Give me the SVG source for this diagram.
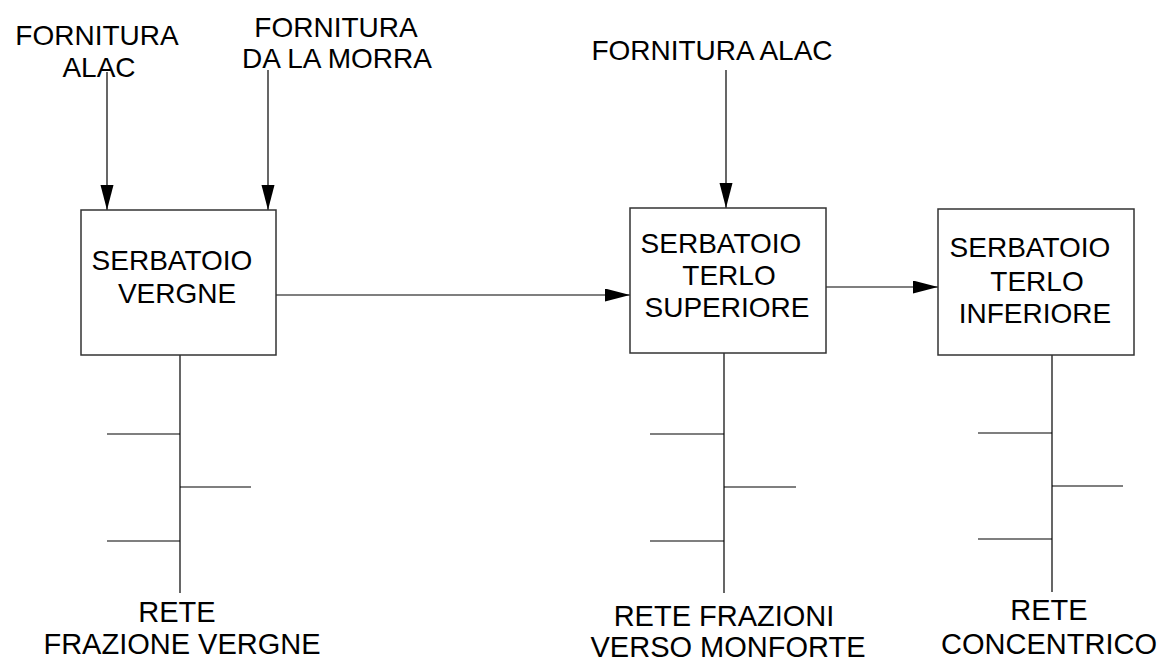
<svg xmlns="http://www.w3.org/2000/svg" width="1168" height="662" viewBox="0 0 1168 662">
<style>
text{font-family:"Liberation Sans",Arial,sans-serif;font-size:28px;fill:#000;text-anchor:middle}
.box{fill:#fff;stroke:#333;stroke-width:1.5}
.ln{stroke:#000;stroke-width:1.2;fill:none}
.big{font-size:29px}
</style>
<defs>
<marker id="ah" markerUnits="userSpaceOnUse" markerWidth="26" markerHeight="14" refX="25" refY="6.5" orient="auto">
<path d="M0,0 L25,6.5 L0,13 z" fill="#000"/>
</marker>
</defs>
<rect width="1168" height="662" fill="#fff"/>
<g id="labels-in">
<text x="97" y="45">FORNITURA</text>
<text x="99" y="77">ALAC</text>
<text x="336" y="37">FORNITURA</text>
<text x="337" y="68">DA LA MORRA</text>
<text x="712" y="60">FORNITURA ALAC</text>
</g>
<g id="connectors">
<line class="ln" x1="107" y1="72" x2="107" y2="210" marker-end="url(#ah)"/>
<line class="ln" x1="268" y1="70" x2="268" y2="210" marker-end="url(#ah)"/>
<line class="ln" x1="726" y1="70" x2="726" y2="208" marker-end="url(#ah)"/>
<line class="ln" x1="276" y1="295" x2="630" y2="295" marker-end="url(#ah)"/>
<line class="ln" x1="826" y1="287" x2="938" y2="287" marker-end="url(#ah)"/>
<line class="ln" x1="180" y1="355" x2="180" y2="593"/>
<line class="ln" x1="107" y1="434" x2="180" y2="434"/>
<line class="ln" x1="180" y1="487" x2="251" y2="487"/>
<line class="ln" x1="107" y1="541" x2="180" y2="541"/>
<line class="ln" x1="724" y1="353" x2="724" y2="593"/>
<line class="ln" x1="650" y1="434" x2="724" y2="434"/>
<line class="ln" x1="724" y1="487" x2="796" y2="487"/>
<line class="ln" x1="650" y1="541" x2="724" y2="541"/>
<line class="ln" x1="1052" y1="355" x2="1052" y2="592"/>
<line class="ln" x1="978" y1="433" x2="1052" y2="433"/>
<line class="ln" x1="1052" y1="486" x2="1123" y2="486"/>
<line class="ln" x1="978" y1="539" x2="1052" y2="539"/>
</g>
<g id="serbatoio-vergne">
<rect class="box" x="81" y="210" width="195" height="145"/>
<text x="172" y="270">SERBATOIO</text>
<text x="177" y="303">VERGNE</text>
</g>
<g id="serbatoio-terlo-superiore">
<rect class="box" x="630" y="208" width="196" height="145"/>
<text x="721" y="253">SERBATOIO</text>
<text x="729" y="285">TERLO</text>
<text x="727" y="317">SUPERIORE</text>
</g>
<g id="serbatoio-terlo-inferiore">
<rect class="box" x="938" y="209" width="196" height="146"/>
<text x="1030" y="257">SERBATOIO</text>
<text x="1037" y="291">TERLO</text>
<text x="1035" y="323">INFERIORE</text>
</g>
<g id="labels-out">
<text class="big" x="177" y="622">RETE</text>
<text class="big" x="182" y="654">FRAZIONE VERGNE</text>
<text class="big" x="724" y="626">RETE FRAZIONI</text>
<text class="big" x="728" y="657">VERSO MONFORTE</text>
<text class="big" x="1049" y="620">RETE</text>
<text class="big" x="1049" y="654">CONCENTRICO</text>
</g>
</svg>
